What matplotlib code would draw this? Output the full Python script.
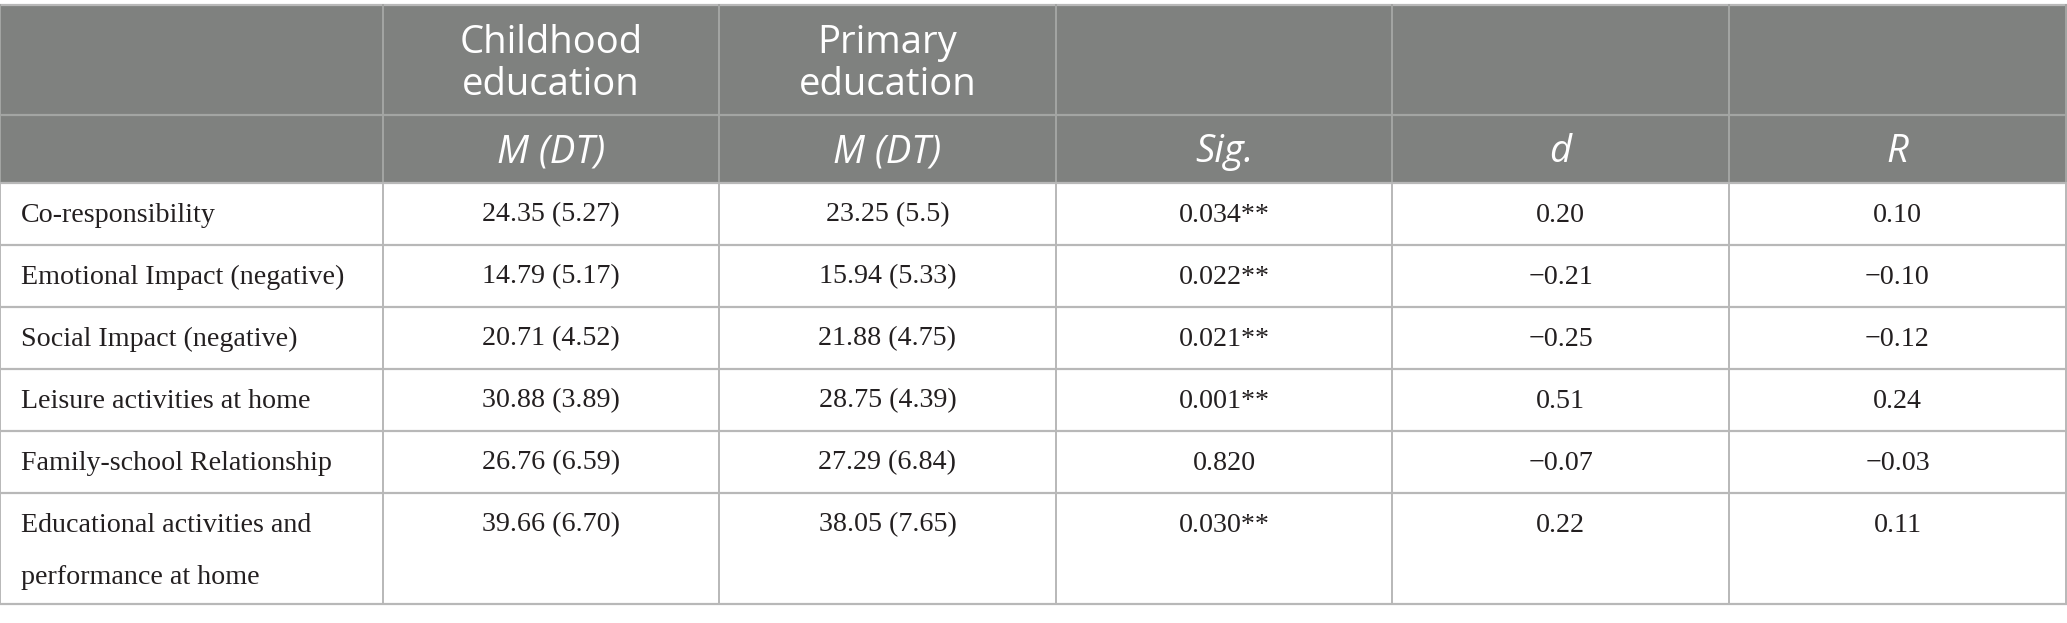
import matplotlib
matplotlib.use("Agg")
import matplotlib.pyplot as plt
from matplotlib.patches import Rectangle

# ---- data ----
group_headers = ["Childhood\neducation", "Primary\neducation", "", "", ""]
sub_headers = ["M (DT)", "M (DT)", "Sig.", "d", "R"]
variables = [
    "Co-responsibility",
    "Emotional Impact (negative)",
    "Social Impact (negative)",
    "Leisure activities at home",
    "Family-school Relationship",
    "Educational activities and\nperformance at home",
]
childhood = ["24.35 (5.27)", "14.79 (5.17)", "20.71 (4.52)", "30.88 (3.89)", "26.76 (6.59)", "39.66 (6.70)"]
primary = ["23.25 (5.5)", "15.94 (5.33)", "21.88 (4.75)", "28.75 (4.39)", "27.29 (6.84)", "38.05 (7.65)"]
sig = ["0.034**", "0.022**", "0.021**", "0.001**", "0.820", "0.030**"]
d_vals = ["0.20", "\u22120.21", "\u22120.25", "0.51", "\u22120.07", "0.22"]
r_vals = ["0.10", "\u22120.10", "\u22120.12", "0.24", "\u22120.03", "0.11"]

# ---- layout (pixels) ----
W, H = 2067, 623
col_edges = [0, 383, 719, 1056, 1392, 1729, 2066]
row_edges = [5, 115, 183, 245, 307, 369, 431, 493, 604]
header_bg = "#7f817f"
grid_c = "#b8b8b8"
head_grid_c = "#a3a5a3"
text_c = "#231f20"

fig = plt.figure(figsize=(W / 100, H / 100), dpi=100)
ax = fig.add_axes([0, 0, 1, 1])
ax.set_xlim(0, W)
ax.set_ylim(H, 0)
ax.axis("off")

# header background
ax.add_patch(Rectangle((0, row_edges[0]), W, row_edges[2] - row_edges[0],
                       facecolor=header_bg, edgecolor="none"))

# horizontal lines
for i, y in enumerate(row_edges):
    c = head_grid_c if 0 < i < 2 else grid_c
    ax.plot([0, W], [y, y], color=c, lw=1.6, solid_capstyle="butt")
# vertical lines
for x in col_edges:
    ax.plot([x, x], [row_edges[0], row_edges[2]], color=head_grid_c, lw=1.4)
    ax.plot([x, x], [row_edges[2], row_edges[-1]], color=grid_c, lw=1.4)

head_font = "Open Sans"
body_font = "Liberation Serif"

def cx(j):
    return (col_edges[j] + col_edges[j + 1]) / 2

# headers
head_line_y = [43, 85]
for j, t in enumerate(group_headers):
    for k, line in enumerate(t.split("\n") if t else []):
        ax.text(cx(j + 1), head_line_y[k], line, ha="center", va="center",
                family=head_font, fontsize=27.5, color="white")
for j, t in enumerate(sub_headers):
    ax.text(cx(j + 1), (row_edges[1] + row_edges[2]) / 2 + 3, t, ha="center", va="center",
            family=head_font, fontsize=27.5, style="italic", color="white")

# body
columns = [childhood, primary, sig, d_vals, r_vals]
bfs = 20.2
line_gap = 53
for i, name in enumerate(variables):
    top = row_edges[2 + i]
    ytext = top + 32
    for k, line in enumerate(name.split("\n")):
        ax.text(21, ytext + k * line_gap, line, ha="left", va="center",
                family=body_font, fontsize=bfs, color=text_c)
    for j, col in enumerate(columns):
        ax.text(cx(j + 1), ytext, col[i], ha="center", va="center",
                family=body_font, fontsize=bfs, color=text_c)

fig.savefig("out.png", dpi=100, facecolor="white")
